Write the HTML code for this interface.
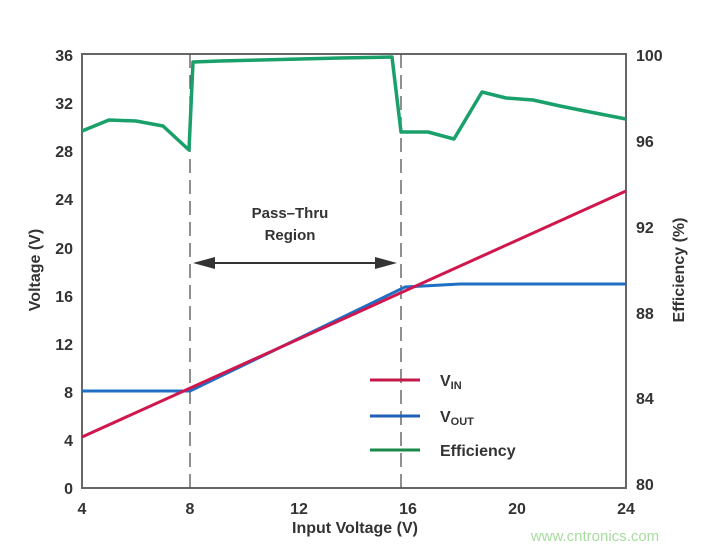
<!DOCTYPE html>
<html><head><style>body{margin:0;background:#fff}svg{display:block}text{font-family:"Liberation Sans",Arial,sans-serif;font-weight:bold;fill:#333}</style></head><body>
<svg width="710" height="552" viewBox="0 0 710 552">
<rect x="82" y="54" width="544" height="434" fill="none" stroke="#666" stroke-width="2"/>
<g stroke="#555" stroke-width="1.3" stroke-dasharray="14,7"><line x1="190" y1="54" x2="190" y2="488"/><line x1="401" y1="54" x2="401" y2="488"/></g>
<line x1="205" y1="263" x2="385" y2="263" stroke="#333" stroke-width="2"/>
<polygon points="193,263 215,257 215,269" fill="#333"/><polygon points="397,263 375,257 375,269" fill="#333"/>
<text x="290" y="218" font-size="15" text-anchor="middle">Pass–Thru</text>
<text x="290" y="240" font-size="15" text-anchor="middle">Region</text>
<polyline fill="none" stroke="#1aa06a" stroke-width="3.5" stroke-linejoin="round" points="82,131 109,120 136,121 163,126 189,150 193,62 220,61 260,60 300,59 340,58 392,57 401,132 428,132 454,139 482,92 506,98 533,100 560,106 590,112 626,119"/>
<polyline fill="none" stroke="#1f6fc5" stroke-width="3" points="82,391 190,391 405,287 460,284 626,284"/>
<line x1="82" y1="437" x2="626" y2="191" stroke="#d0174d" stroke-width="3"/>
<line x1="370" y1="380" x2="420" y2="380" stroke="#c4174a" stroke-width="3"/>
<line x1="370" y1="416" x2="420" y2="416" stroke="#1f5fb5" stroke-width="3"/>
<line x1="370" y1="450" x2="420" y2="450" stroke="#1a8a4a" stroke-width="3"/>
<text x="440" y="386" font-size="16">V<tspan font-size="11" dy="3">IN</tspan></text>
<text x="440" y="422" font-size="16">V<tspan font-size="11" dy="3">OUT</tspan></text>
<text x="440" y="456" font-size="16">Efficiency</text>
<g font-size="16" text-anchor="end"><text x="73" y="61">36</text><text x="73" y="109">32</text><text x="73" y="157">28</text><text x="73" y="205">24</text><text x="73" y="254">20</text><text x="73" y="302">16</text><text x="73" y="350">12</text><text x="73" y="398">8</text><text x="73" y="446">4</text><text x="73" y="494">0</text></g>
<g font-size="16"><text x="636" y="61">100</text><text x="636" y="147">96</text><text x="636" y="233">92</text><text x="636" y="319">88</text><text x="636" y="404">84</text><text x="636" y="490">80</text></g>
<g font-size="16" text-anchor="middle"><text x="82" y="514">4</text><text x="190" y="514">8</text><text x="299" y="514">12</text><text x="408" y="514">16</text><text x="517" y="514">20</text><text x="626" y="514">24</text></g>
<text x="355" y="533" font-size="16" text-anchor="middle">Input Voltage (V)</text>
<text transform="translate(40,270) rotate(-90)" font-size="16" text-anchor="middle">Voltage (V)</text>
<text transform="translate(684,270) rotate(-90)" font-size="16" text-anchor="middle">Efficiency (%)</text>
<text x="595" y="541" font-size="15" text-anchor="middle" style="font-weight:normal;fill:#a8dca0">www.cntronics.com</text>
</svg></body></html>
